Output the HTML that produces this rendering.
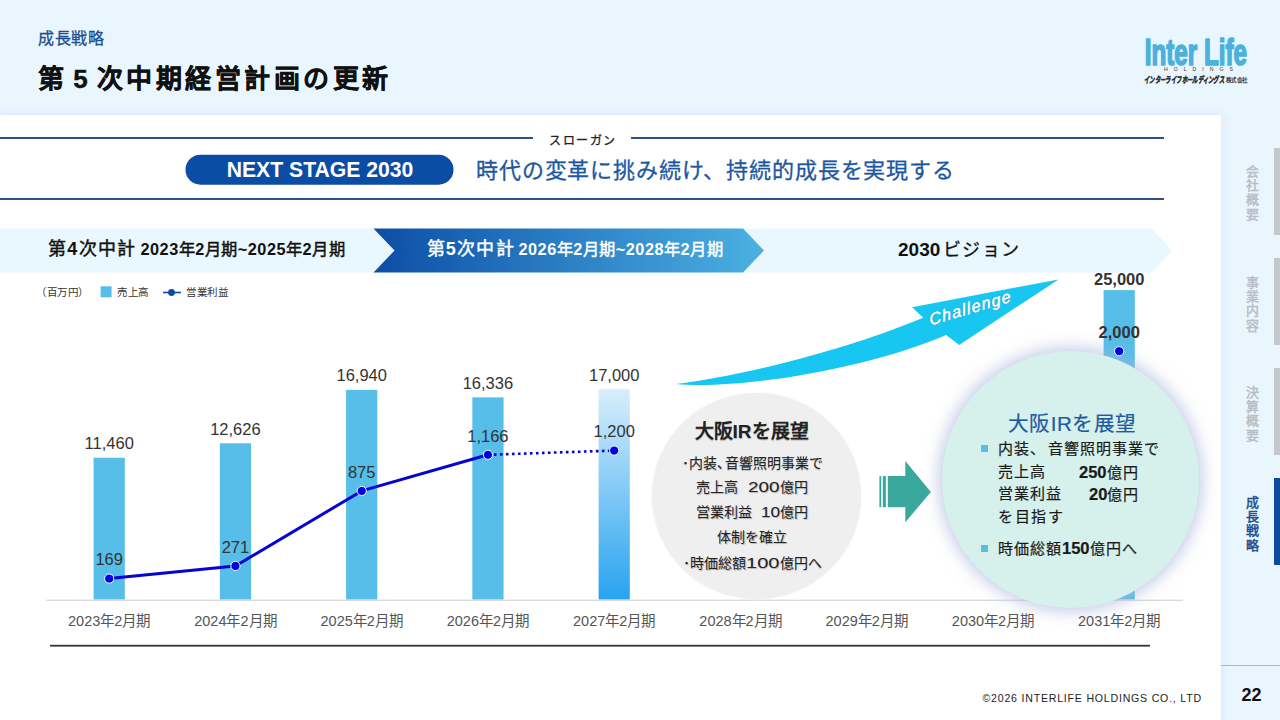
<!DOCTYPE html>
<html lang="zh-CN">
<head>
<meta charset="utf-8">
<style>
*{margin:0;padding:0;box-sizing:border-box}
html,body{width:1280px;height:720px;overflow:hidden}
body{position:relative;background:#eaf6fe;font-family:"Liberation Sans",sans-serif;color:#111}
.a{position:absolute;white-space:nowrap;line-height:1}
.m{-webkit-text-stroke:0.3px currentColor}
.md{-webkit-text-stroke:0.45px currentColor}
#panel{position:absolute;left:0;top:115px;width:1221px;height:605px;background:#fff;box-shadow:0 0 6px rgba(150,180,210,.35)}
svg{position:absolute;left:0;top:0}
.lb{width:80px;text-align:center;font-size:16.5px;color:#333}
.xl{width:120px;text-align:center;font-size:14.5px;color:#555}
.tab{position:absolute;left:1274px;width:6px;height:87px;background:#c4c7cc}
.tt{position:absolute;left:1244px;width:16px;font-size:13px;line-height:14.2px;-webkit-text-stroke:0.5px currentColor;color:#b9bdc5;text-align:center;white-space:normal}
.g{font-size:14px;color:#222;text-shadow:0.5px 0.5px 0.8px rgba(0,0,0,.25)}
.dg{font-size:14.3px;transform-origin:0 0;display:block}
.bd{font-size:16.5px}
.mc{font-size:15px;color:#1a1a1a;left:998px;-webkit-text-stroke:0.2px #1a1a1a}
.sq{position:absolute;left:981px;width:7px;height:7px;background:#5bbde6}
</style>
</head>
<body>
<div id="panel"></div>

<!-- header -->
<div class="a m" style="left:38px;top:31px;font-size:16px;letter-spacing:0.6px;color:#1d4f8f">成長戦略</div>
<div class="a" style="left:38px;top:66px;font-size:26px;font-weight:bold;letter-spacing:3.5px;word-spacing:-5px;color:#111;-webkit-text-stroke:0.4px #111">第 5 次中期経営計画の更新</div>

<!-- logo -->
<svg width="1280" height="100" viewBox="0 0 1280 100">
  <text x="1144.8" y="64.5" font-family="Liberation Sans" font-weight="bold" font-size="36.6" fill="#4ab1dc" stroke="#4ab1dc" stroke-width="1.7" stroke-linejoin="round" textLength="102.2" lengthAdjust="spacingAndGlyphs">Inter Life</text>
  <text x="1164" y="71.3" font-family="Liberation Sans" font-size="5.2" fill="#333" textLength="69" lengthAdjust="spacing">HOLDINGS</text>
  <text x="1144" y="82.5" font-family="Liberation Sans" font-size="9" font-style="italic" font-weight="bold" fill="#333" stroke="#333" stroke-width="0.35" textLength="80" lengthAdjust="spacingAndGlyphs">インターライフホールディングス</text>
  <text x="1226" y="82.3" font-family="Liberation Sans" font-size="6.2" font-weight="bold" fill="#333" textLength="21.5" lengthAdjust="spacingAndGlyphs">株式会社</text>
</svg>

<!-- sidebar -->
<div style="position:absolute;left:1221px;top:115px;width:13px;height:550px;background:linear-gradient(90deg,#e3f0f9,#eaf6fe)"></div>
<div style="position:absolute;left:1221px;top:664.5px;width:59px;height:1.5px;background:#a9b8c6"></div>
<div class="tab" style="top:148px"></div>
<div class="tab" style="top:258px"></div>
<div class="tab" style="top:368px"></div>
<div class="tab" style="top:478px;background:#0b4a9f"></div>
<div class="tt" style="top:165px">会<br>社<br>概<br>要</div>
<div class="tt" style="top:276px">事<br>業<br>内<br>容</div>
<div class="tt" style="top:386px">決<br>算<br>概<br>要</div>
<div class="tt" style="top:496px;color:#1d4f8f">成<br>長<br>戦<br>略</div>

<!-- shapes -->
<svg width="1280" height="720" viewBox="0 0 1280 720">
  <defs>
    <linearGradient id="g5" x1="0" y1="0" x2="1" y2="0">
      <stop offset="0" stop-color="#0c4ea6"/>
      <stop offset="1" stop-color="#4bb1e2"/>
    </linearGradient>
    <linearGradient id="g27" x1="0" y1="0" x2="0" y2="1">
      <stop offset="0" stop-color="#d8eefc"/>
      <stop offset="1" stop-color="#27a3f0"/>
    </linearGradient>
    <linearGradient id="gch" x1="0" y1="1" x2="1" y2="0">
      <stop offset="0" stop-color="#22c9f3"/>
      <stop offset="1" stop-color="#12c3f0"/>
    </linearGradient>
  </defs>
  <!-- slogan lines -->
  <rect x="0" y="137" width="533" height="2" fill="#2b5286"/>
  <rect x="631" y="137" width="533" height="2" fill="#2b5286"/>
  <rect x="0" y="198" width="1164" height="2" fill="#2b5286"/>
  <rect x="185.5" y="154.7" width="268" height="30" rx="15" fill="#0b4da5"/>
  <!-- phase banner -->
  <polygon points="0,228.5 373.5,228.5 394.5,250.5 373.5,272.5 0,272.5" fill="#e9f7fe"/>
  <polygon points="743,228.5 1152,228.5 1172,250.5 1152,272.5 743,272.5 764,250.5" fill="#e9f7fe"/>
  <polygon points="373.5,228.5 743,228.5 764,250.5 743,272.5 373.5,272.5 394.5,250.5" fill="url(#g5)"/>
  <!-- legend -->
  <rect x="100.6" y="286.3" width="11" height="11" fill="#56bee8"/>
  <line x1="163" y1="292.5" x2="181" y2="292.5" stroke="#0d4aa0" stroke-width="1.6"/>
  <circle cx="171.5" cy="292.5" r="3.4" fill="#0d4aa0"/>
  <!-- chart -->
  <rect x="93.60" y="457.73" width="31.2" height="141.87" fill="#56bee8"/>
  <rect x="219.85" y="443.29" width="31.2" height="156.31" fill="#56bee8"/>
  <rect x="346.10" y="389.88" width="31.2" height="209.72" fill="#56bee8"/>
  <rect x="472.35" y="397.36" width="31.2" height="202.24" fill="#56bee8"/>
  <rect x="598.60" y="389.14" width="31.2" height="210.46" fill="url(#g27)"/>
  <rect x="1103.60" y="290.10" width="31.2" height="309.50" fill="#56bee8"/>
  <rect x="46" y="599.6" width="1137" height="1.4" fill="#dcdcdc"/>
  <polyline points="109.20,578.61 235.45,565.94 361.70,490.93 487.95,454.78" fill="none" stroke="#0505d2" stroke-width="3" stroke-linejoin="round"/>
  <line x1="487.95" y1="454.78" x2="614.20" y2="450.56" stroke="#0505d2" stroke-width="2.6" stroke-dasharray="2.6 3.4"/>
  <!-- bottom line -->
  <rect x="50" y="644.8" width="1100" height="1.8" fill="#333"/>
  <!-- challenge arrow -->
  <path d="M676.1,384 C740,376 840,352 923.2,317.7 L912.1,307.3 L1058.5,279.4 L959.2,344.9 L946.1,334.9 C870,368 740,390 676.1,384 Z" fill="#17c7f1"/>
  <text x="0" y="0" transform="translate(930.5 325.5) rotate(-16.5) skewX(-6)" font-family="Liberation Sans" font-style="italic" font-size="16.5" letter-spacing="1.25" fill="#fff" stroke="#1f7fa3" stroke-width="1.3" stroke-opacity="0.55" stroke-linejoin="round">Challenge</text>
  <text x="0" y="0" transform="translate(930.5 325.5) rotate(-16.5) skewX(-6)" font-family="Liberation Sans" font-style="italic" font-size="16.5" letter-spacing="1.25" fill="#fff" stroke="#fff" stroke-width="0.4">Challenge</text>
  <!-- teal arrow -->
  <rect x="879.4" y="476.1" width="1.8" height="31.1" fill="#3aa89d"/>
  <rect x="882.8" y="476.1" width="3.1" height="31.1" fill="#3aa89d"/>
  <polygon points="887.8,476.1 905.3,476.1 905.3,461.1 930.9,492 905.3,522.2 905.3,507.2 887.8,507.2" fill="#3aa89d"/>
</svg>


<!-- gray circle -->
<div style="position:absolute;left:651.5px;top:393px;width:209px;height:206px;border-radius:50%;background:#efefef;box-shadow:0 0 2px #efefef"></div>
<!-- mint circle -->
<div style="position:absolute;left:941.5px;top:350.5px;width:257px;height:257px;border-radius:50%;background:#d6f0ec;box-shadow:0 0 16px 3px rgba(168,178,218,.7)"></div>

<svg width="1280" height="720" viewBox="0 0 1280 720">
  <circle cx="109.20" cy="578.61" r="4.6" fill="#0000e6" stroke="#fff" stroke-width="1"/>
  <circle cx="235.45" cy="565.94" r="4.6" fill="#0000e6" stroke="#fff" stroke-width="1"/>
  <circle cx="361.70" cy="490.93" r="4.6" fill="#0000e6" stroke="#fff" stroke-width="1"/>
  <circle cx="487.95" cy="454.78" r="4.6" fill="#0000e6" stroke="#fff" stroke-width="1"/>
  <circle cx="614.20" cy="450.56" r="4.6" fill="#0000e6" stroke="#fff" stroke-width="1"/>
  <circle cx="1119.20" cy="351.20" r="4.6" fill="#0000e6" stroke="#fff" stroke-width="1"/>
</svg>

<div class="a lb" style="left:69.2px;top:435.1px;">11,460</div>
<div class="a lb" style="left:195.4px;top:420.7px;">12,626</div>
<div class="a lb" style="left:321.7px;top:367.3px;">16,940</div>
<div class="a lb" style="left:447.9px;top:374.8px;">16,336</div>
<div class="a lb" style="left:574.2px;top:366.5px;">17,000</div>
<div class="a lb" style="left:1079.2px;top:271.3px;font-weight:bold;color:#333;">25,000</div>
<div class="a lb" style="left:69.2px;top:551.4px;">169</div>
<div class="a lb" style="left:195.4px;top:538.7px;">271</div>
<div class="a lb" style="left:321.7px;top:463.7px;">875</div>
<div class="a lb" style="left:447.9px;top:427.6px;">1,166</div>
<div class="a lb" style="left:574.2px;top:423.4px;">1,200</div>
<div class="a lb" style="left:1079.2px;top:324.0px;font-weight:bold;color:#333;">2,000</div>
<div class="a xl" style="left:49.2px;top:614px;">2023年2月期</div>
<div class="a xl" style="left:175.4px;top:614px;">2024年2月期</div>
<div class="a xl" style="left:301.7px;top:614px;">2025年2月期</div>
<div class="a xl" style="left:427.9px;top:614px;">2026年2月期</div>
<div class="a xl" style="left:554.2px;top:614px;">2027年2月期</div>
<div class="a xl" style="left:680.5px;top:614px;">2028年2月期</div>
<div class="a xl" style="left:806.7px;top:614px;">2029年2月期</div>
<div class="a xl" style="left:933.0px;top:614px;">2030年2月期</div>
<div class="a xl" style="left:1059.2px;top:614px;">2031年2月期</div>

<!-- gray circle text -->
<div class="a g" style="left:694.5px;top:421.5px;font-size:19px;font-weight:bold">大阪IRを展望</div>
<div class="a g" style="left:681.5px;top:455.5px">･</div>
<div class="a g" style="left:688.5px;top:455.5px">内装<span style="margin-right:-6px">、</span>音響照明事業で</div>
<div class="a g" style="left:696px;top:480px">売上高</div>
<div class="a g dg" style="left:747.5px;top:480px;transform:scaleX(1.32)">200</div>
<div class="a g" style="left:780px;top:480px">億円</div>
<div class="a g" style="left:696px;top:505px">営業利益</div>
<div class="a g dg" style="left:761px;top:505px;transform:scaleX(1.2)">10</div>
<div class="a g" style="left:780px;top:505px">億円</div>
<div class="a g" style="left:717px;top:530px">体制を確立</div>
<div class="a g" style="left:683px;top:556px">･</div>
<div class="a g" style="left:690px;top:556px">時価総額</div>
<div class="a g dg" style="left:746px;top:556px;transform:scaleX(1.4)">100</div>
<div class="a g" style="left:779.5px;top:556px">億円へ</div>

<!-- mint circle text -->
<div class="a" style="left:1008px;top:413.5px;font-size:20.6px;color:#1f5aa0;letter-spacing:0.4px;-webkit-text-stroke:0.2px #1f5aa0">大阪IRを展望</div>
<div class="sq" style="top:444.8px"></div>
<div class="sq" style="top:544.8px"></div>
<div class="a mc" style="top:440.5px;letter-spacing:1px">内装<span style="margin-right:2px">、</span>音響照明事業で</div>
<div class="a mc" style="top:463.5px;letter-spacing:1px">売上高</div>
<div class="a mc" style="top:463.5px;left:1079px;letter-spacing:1px"><b class="bd" style="letter-spacing:0">250</b>億円</div>
<div class="a mc" style="top:486.3px;letter-spacing:1px">営業利益</div>
<div class="a mc" style="top:486.3px;left:1089px;letter-spacing:1px"><b class="bd" style="letter-spacing:0">20</b>億円</div>
<div class="a mc" style="top:509px;letter-spacing:1.6px">を目指す</div>
<div class="a mc" style="top:539.5px;letter-spacing:1px">時価総額<b class="bd" style="letter-spacing:0">150</b>億円へ</div>

<!-- legend text -->
<div class="a" style="left:36px;top:287px;font-size:10.5px;color:#333;letter-spacing:0.5px">（百万円）</div>
<div class="a" style="left:117px;top:287px;font-size:10.5px;color:#333;letter-spacing:0.6px">売上高</div>
<div class="a" style="left:186px;top:287px;font-size:10.5px;color:#333;letter-spacing:0.6px">営業利益</div>

<!-- slogan text -->
<div class="a m" style="left:549px;top:135px;font-size:12px;letter-spacing:1.6px;color:#222">スローガン</div>
<div class="a" style="left:185.5px;top:159px;width:268px;text-align:center;font-size:22.4px;font-weight:bold;color:#fff;transform:scaleX(0.945)">NEXT STAGE 2030</div>
<div class="a m" style="left:476px;top:159.5px;font-size:22px;letter-spacing:0.85px;color:#1d57a0">時代の変革に挑み続け、持続的成長を実現する</div>

<!-- banner text -->
<div class="a" style="left:48px;top:239.5px;color:#111;font-size:18px;letter-spacing:1.3px"><span class="md">第</span><b>4</b><span class="md">次中計</span></div>
<div class="a" style="left:140.5px;top:241px;color:#111;font-size:16.3px;letter-spacing:0.5px"><b>2023</b><span class="md">年</span><b>2</b><span class="md">月期</span><b>~2025</b><span class="md">年</span><b>2</b><span class="md">月期</span></div>
<div class="a" style="left:426.5px;top:239.5px;color:#fff;font-size:18px;letter-spacing:1.3px"><span class="md">第</span><b>5</b><span class="md">次中計</span></div>
<div class="a" style="left:518.5px;top:241px;color:#fff;font-size:16.3px;letter-spacing:0.5px"><b>2026</b><span class="md">年</span><b>2</b><span class="md">月期</span><b>~2028</b><span class="md">年</span><b>2</b><span class="md">月期</span></div>
<div class="a" style="left:898px;top:240px;color:#111;font-size:18px"><b style="font-size:19px">2030</b><span class="m" style="letter-spacing:1.2px;margin-left:3px">ビジョン</span></div>

<!-- footer -->
<div class="a" style="left:982.5px;top:692.5px;font-size:10.6px;letter-spacing:0.78px;color:#222">©2026 INTERLIFE HOLDINGS CO., LTD</div>
<div class="a" style="left:1241.5px;top:685.5px;font-size:18px;font-weight:bold;color:#111">22</div>

</body>
</html>
